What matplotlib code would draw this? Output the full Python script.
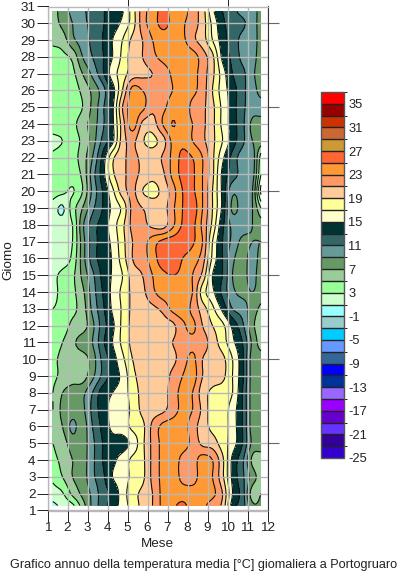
# -*- coding:utf-8 -*-
import matplotlib
matplotlib.use('Agg')
import matplotlib.pyplot as plt
from matplotlib.colors import ListedColormap, BoundaryNorm
import numpy as np

plt.rcParams['font.family'] = ['Liberation Sans', 'DejaVu Sans']
plt.rcParams['axes.unicode_minus'] = False

mesi = [1.27, 1.75, 2.25, 2.75, 3.25, 3.75, 4.25, 4.75, 5.25, 5.75, 6.25,
        6.75, 7.25, 7.75, 8.25, 8.75, 9.25, 9.75, 10.25, 10.75, 11.25, 11.67]
giorni = [1.3, 2, 3, 4, 5, 6, 7, 8, 9, 10, 11, 12, 13, 14, 15, 16, 17, 18, 19,
          20, 21, 22, 23, 24, 25, 26, 27, 28, 29, 30, 30.7]

g01 = [0.5, 1.5, 2.5, 6, 9.5, 12, 14, 15.8, 18, 19.5, 21, 23.5, 24.5, 25.5, 24, 23.5, 22, 20.5, 14, 12, 7.5, 7.5]
g02 = [2, 2.8, 5.5, 7.5, 9.5, 12, 13.5, 16, 18.2, 19.5, 21, 23.5, 24, 24, 24, 24, 23.5, 21, 15, 12, 6, 7]
g03 = [3.5, 5, 7, 8, 10.5, 12.5, 15, 16, 17.5, 18.5, 21.5, 23.5, 24, 22.5, 22, 24, 23, 19.5, 14.5, 11.5, 8, 6]
g04 = [4.5, 5.5, 7, 8, 10.5, 13, 14.5, 15.8, 17.5, 18.5, 21.5, 23.5, 24, 22.5, 22, 24, 23, 19.5, 14.5, 11.5, 6.5, 6]
g05 = [5, 6, 8, 8, 10.5, 13, 14.2, 14.2, 15.6, 18.5, 21.5, 23.5, 24, 23.8, 22.5, 20.5, 20, 18, 16, 13, 8.5, 8]
g06 = [5.5, 7, 9.5, 8, 11, 13.5, 15.5, 16, 17.5, 18.5, 21.5, 23.5, 24, 24, 22, 20, 18.5, 18, 16, 13, 8, 8]
g07 = [5, 7.5, 8, 8.5, 11.5, 14, 15.5, 16, 17.5, 19.5, 20, 20.5, 22, 23.5, 23, 20.5, 18, 18, 16, 13, 8, 8]
g08 = [5, 7, 8, 8.5, 11, 14, 15, 15.8, 18, 19.5, 20, 20, 22, 23.5, 23, 20, 18.5, 18, 17, 13, 8, 8]
g09 = [4.5, 5.5, 6, 6, 8.5, 11.5, 14, 15.5, 18.5, 19.5, 20, 20, 21.5, 23, 24, 21, 20, 19.5, 17, 13.5, 8, 8]
g10 = [4.5, 5.5, 6, 6, 8, 11.5, 14, 16.5, 19, 19.5, 20, 20, 20.5, 22, 23.5, 21, 20, 19.5, 17, 13.5, 8, 8]
g11 = [4, 5, 6.5, 8, 9, 12.5, 15, 17.5, 19.5, 19.8, 20, 20.5, 21, 22, 22.5, 22, 20, 18, 15.5, 13, 8.5, 6]
g12 = [4, 4, 5.5, 6, 8.5, 12, 14.5, 17.5, 19.5, 19.5, 19.5, 20, 20.5, 22.5, 23.5, 21, 19, 17.5, 14.5, 11.5, 7.5, 6]
g13 = [3, 3.5, 4.5, 6, 9.5, 12.5, 15.3, 17.3, 19.5, 20, 20.5, 21.5, 23.5, 24, 22.5, 20, 17.5, 14.5, 11, 10, 8, 6.5]
g14 = [2.5, 3.5, 4.5, 6.5, 10, 13, 15.5, 17.5, 19.5, 20.5, 22.5, 24, 24, 23.5, 23, 18, 15.5, 12.5, 9.5, 8.5, 9, 8]
g15 = [2.5, 3.5, 4.5, 7.5, 10.5, 13.5, 15.2, 17, 20, 21, 23, 24.5, 25, 24.5, 23, 20.5, 15, 13, 9, 8, 10, 7]
g16 = [2, 2, 3.5, 8, 12, 13.8, 15.2, 18, 21, 22, 24, 26, 26, 25, 24, 22, 16.5, 13, 9.5, 8, 10, 8]
g17 = [2, 2, 3, 8, 12, 13.8, 15.5, 18.3, 21, 22, 24, 25.5, 26, 26, 25.3, 23, 17, 13, 10.5, 8.5, 9, 9]
g18 = [2, 2, 3, 8.5, 12, 13.8, 16, 18.5, 21.5, 21.5, 20.5, 20, 22.5, 25.2, 25.5, 22.5, 18.5, 13.5, 10.5, 10, 9, 8]
g19 = [2, 0.7, 4, 7, 10.5, 13, 15.5, 17.5, 21.5, 21, 20, 20, 22.5, 25, 26, 23, 19, 14.5, 8.5, 10, 9, 5]
g20 = [4, 3.5, 2.8, 5, 9.5, 13, 16.5, 20, 21.5, 19, 18.5, 19.5, 22, 25, 25.3, 23, 19, 14.5, 9.5, 10, 9, 0.5]
g21 = [4.5, 5, 4, 5.5, 10, 14, 18.5, 20.5, 21.5, 20.5, 19.5, 20.5, 23.5, 25.5, 25.3, 23, 19.5, 14.5, 12, 10.3, 9.8, 3]
g22 = [3.5, 4, 4.2, 6, 9, 13.5, 18.5, 20.5, 21.5, 20.5, 20, 21.2, 23.5, 25.5, 25, 23, 19.5, 15.5, 12.3, 10, 10, 4]
g23 = [2.5, 3, 4, 5.5, 8, 11.5, 14.5, 20, 21.5, 19.2, 18.5, 20, 23.5, 24.5, 23, 21.5, 19.5, 17, 14, 11.5, 9, 8]
g24 = [4, 4, 4.5, 6, 8, 10.5, 14.5, 20, 24, 20.5, 20, 23, 25.1, 24, 23, 21.5, 19.5, 16.5, 14, 11.5, 8.5, 8]
g25 = [4, 4, 4, 5, 7.5, 10.5, 14.5, 21, 24, 23.5, 21.5, 22.5, 23.8, 24.2, 22.5, 21.5, 19.5, 16.5, 14, 11.5, 10, 10]
g26 = [4, 4, 4, 5.5, 7.5, 10, 14, 19, 23.8, 23, 22, 22.5, 23, 24, 23.5, 22, 19, 16, 14, 11.5, 10, 8]
g27 = [4, 4, 4.5, 7, 9.5, 12.5, 16, 18, 20, 20.5, 21, 22, 23.3, 24.5, 23.8, 22, 19.5, 16, 13, 11.5, 9.5, 7.5]
g28 = [4, 4.5, 5.5, 9, 11, 12.8, 15, 17.5, 20, 21, 22.5, 23.5, 24, 24.5, 24, 22, 19.5, 14.5, 12.5, 10.5, 10, 7.5]
g29 = [5.5, 6, 8.5, 10, 11.5, 13, 15, 17, 19.5, 21, 23, 24, 24, 23.5, 21.5, 20, 17, 14, 12, 10.5, 10, 8]
g30 = [6, 7.5, 9, 10.5, 11.5, 12.8, 14, 15.5, 18, 22, 24, 25.5, 24.5, 23.3, 22, 20, 16.5, 13.5, 12, 11.3, 10, 8]
g31 = [6, 8, 9.5, 10.5, 12, 12.8, 14, 14.8, 18, 22, 24, 25.5, 24.5, 24, 22, 20, 15.5, 13, 11.5, 10.5, 10, 8]

temperatura = np.array([g01, g02, g03, g04, g05, g06, g07, g08, g09, g10, g11, g12, g13, g14, g15, g16,
                        g17, g18, g19, g20, g21, g22, g23, g24, g25, g26, g27, g28, g29, g30, g31])

livelli = list(range(-25, 38, 2))
colori = ['#3300CC', '#330099', '#6633FF', '#6600CC', '#9900FF', '#9966FF', '#003399', '#0000FF',
          '#336699', '#6699FF', '#00CCFF', '#99CCCC', '#99FFFF', '#CCFFCC', '#99FF99', '#99CC99',
          '#669966', '#669999', '#336666', '#003333', '#FFFFCC', '#FFFF99', '#FFCC99', '#FF9966',
          '#FF9933', '#FF6633', '#CC9933', '#CC6633', '#CC3300', '#990000', '#FF0000']


def liscia(v, n=5):
    # Catmull-Rom su una riga, solo per arrotondare le isoterme
    v = np.concatenate([[2 * v[0] - v[1]], v, [2 * v[-1] - v[-2]]])
    t = np.linspace(0, len(v) - 3, (len(v) - 3) * n + 1)
    i = np.minimum(t.astype(int), len(v) - 4)
    u = t - i
    p0, p1, p2, p3 = v[i], v[i + 1], v[i + 2], v[i + 3]
    return 0.5 * (2 * p1 + (p2 - p0) * u + (2 * p0 - 5 * p1 + 4 * p2 - p3) * u ** 2
                  + (3 * p1 - p0 - 3 * p2 + p3) * u ** 3)


z = np.apply_along_axis(liscia, 0, temperatura)
z = np.apply_along_axis(liscia, 1, z)
x = np.interp(np.linspace(0, len(mesi) - 1, z.shape[1]), np.arange(len(mesi)), mesi)
y = np.interp(np.linspace(0, len(giorni) - 1, z.shape[0]), np.arange(len(giorni)), giorni)

W, H = 400, 574
fig = plt.figure(figsize=(W / 100, H / 100), dpi=100)
ax = fig.add_axes([47.5 / W, 1 - 510.5 / H, 220 / W, 504 / H])

cmap = ListedColormap(colori)
norm = BoundaryNorm(livelli, cmap.N)
cf = ax.contourf(x, y, z, levels=livelli, cmap=cmap, norm=norm)
ax.contour(x, y, z, levels=livelli, colors='#111111', linewidths=0.8)

ax.set_xlim(1, 12)
ax.set_ylim(1, 31)
ax.set_xticks(range(1, 13))
ax.set_yticks(range(1, 32))
ax.tick_params(labelsize=9.7, length=8, width=0.7, pad=0.5, colors='#222222')
ax.grid(True, color='#B8B8B8', linewidth=1)
ax.set_axisbelow(False)
for lato in ['top', 'bottom']:
    ax.spines[lato].set_color('#B8B8B8')
    ax.spines[lato].set_linewidth(1)
for lato in ['left', 'right']:
    ax.spines[lato].set_color('#333333')
    ax.spines[lato].set_linewidth(0.8)

# tacche esterne sopra e a destra
sopra = ax.secondary_xaxis('top')
sopra.set_xticks([5, 10])
sopra.set_xticklabels([])
sopra.tick_params(length=7, width=0.7, color='#222222')
sopra.spines['top'].set_visible(False)
destra = ax.secondary_yaxis('right')
destra.set_yticks([5, 10, 15, 20, 25, 30])
destra.set_yticklabels([])
destra.tick_params(length=8, width=0.8, color='#666666')
destra.spines['right'].set_visible(False)

fig.text(8.5 / W, 1 - 260 / H, 'Giomo', rotation=90, fontsize=9.7, ha='center', va='center', color='#222222')
fig.text(157 / W, 1 - 544 / H, 'Mese', fontsize=9.7, ha='center', va='center', color='#222222')
fig.text(204 / W, 1 - 565 / H, 'Grafico annuo della temperatura media [°C] giomaliera a Portogruaro',
         fontsize=9.1, ha='center', va='center', color='#222222')

cax = fig.add_axes([321 / W, 1 - 458 / H, 23 / W, 366 / H])
cb = fig.colorbar(cf, cax=cax, ticks=livelli[::2], drawedges=True, spacing='uniform')
cb.ax.set_yticklabels([str(v) for v in livelli[::2]])
cb.ax.tick_params(length=0, labelsize=9.3, pad=3, colors='#222222')
cb.dividers.set_color('#222222')
cb.dividers.set_linewidth(1)
cb.outline.set_edgecolor('#555555')
cb.outline.set_linewidth(1)

plt.savefig('out.png', dpi=100)
